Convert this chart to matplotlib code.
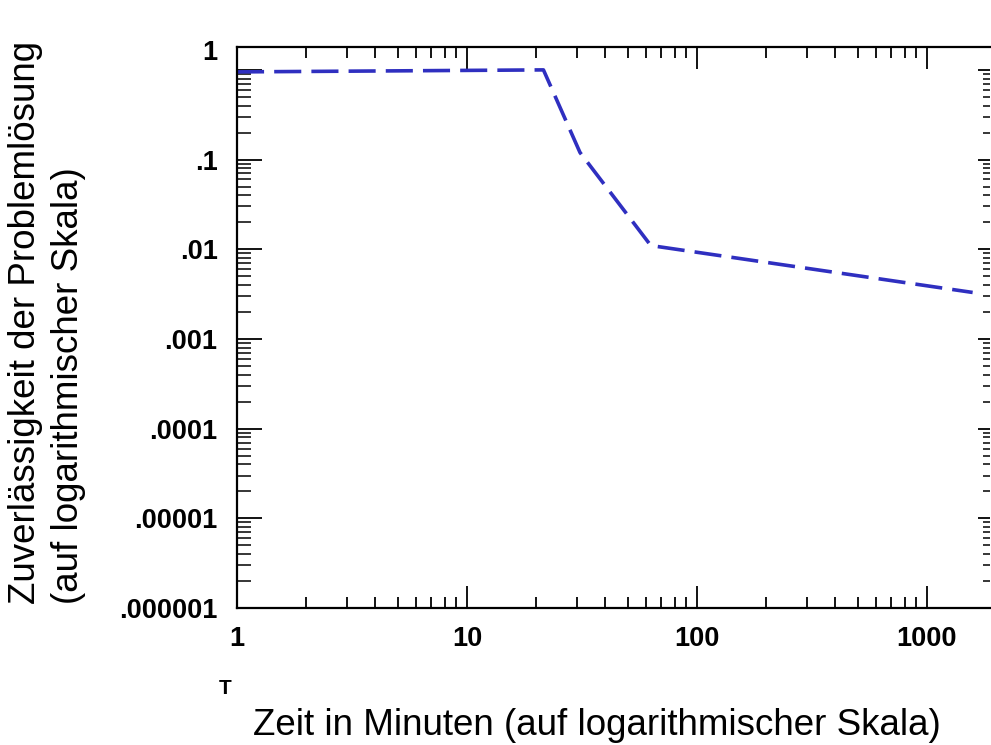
import matplotlib
matplotlib.use("Agg")
import matplotlib.pyplot as plt
import matplotlib.transforms as mtransforms
from matplotlib.ticker import LogLocator, FixedLocator, NullFormatter

# Data
time_min = [1, 21.5, 31, 63, 1580]
reliability = [0.95, 1.0, 0.12, 0.011, 0.0033]

x_ticks = [1, 10, 100, 1000]
x_tick_labels = ["1", "10", "100", "1000"]
y_ticks = [1e-6, 1e-5, 1e-4, 1e-3, 1e-2, 1e-1, 1]
y_tick_labels = [".000001", ".00001", ".0001", ".001", ".01", ".1", "1"]

plt.rcParams['font.family'] = ['Liberation Sans', 'DejaVu Sans']

fig = plt.figure(figsize=(9.91, 7.45), dpi=100)
fig.patch.set_facecolor("white")
W, H = 991, 745
left, right, top, bottom = 237, 990, 47, 608
ax = fig.add_axes([left / W, 1 - bottom / H, (right - left) / W, (bottom - top) / H])
ax.set_facecolor("white")

ax.plot(time_min, reliability, color="#2f2fc0", lw=2.6, dashes=(7.5, 2.8),
        solid_capstyle="butt", dash_capstyle="butt")

ax.set_xscale("log")
ax.set_yscale("log")
ax.set_xlim(1, 1880)
ax.set_ylim(1e-6, 1.8)

ax.xaxis.set_major_locator(FixedLocator(x_ticks))
ax.set_xticklabels(x_tick_labels, fontsize=19.5, fontweight="bold")
ax.yaxis.set_major_locator(FixedLocator(y_ticks))
ax.set_yticklabels(y_tick_labels, fontsize=19.5, fontweight="bold")
ax.xaxis.set_minor_locator(LogLocator(base=10, subs=range(2, 10), numticks=20))
ax.yaxis.set_minor_locator(LogLocator(base=10, subs=range(2, 10), numticks=20))
ax.xaxis.set_minor_formatter(NullFormatter())
ax.yaxis.set_minor_formatter(NullFormatter())

for s in ["left", "bottom", "top"]:
    ax.spines[s].set_linewidth(1.6)
ax.spines["right"].set_visible(False)

ax.tick_params(axis="x", which="major", direction="in", length=16, width=1.3,
               top=True, bottom=True, pad=13)
ax.tick_params(axis="x", which="minor", direction="in", length=8, width=1.3,
               top=True, bottom=True)
ax.tick_params(axis="y", which="major", direction="in", length=18, width=1.3,
               left=True, right=False, pad=14)
ax.tick_params(axis="y", which="minor", direction="in", length=10, width=1.1,
               left=True, right=False)

# the "1" label sits at the top edge in the original
lab = ax.get_yticklabels()[-1]
lab.set_transform(lab.get_transform() +
                  mtransforms.ScaledTranslation(0, 20 / 100, fig.dpi_scale_trans))

# right-side short ticks
axr = ax.twinx()
axr.set_yscale("log")
axr.set_ylim(ax.get_ylim())
axr.yaxis.set_major_locator(FixedLocator(y_ticks))
axr.yaxis.set_minor_locator(LogLocator(base=10, subs=range(2, 10), numticks=20))
axr.yaxis.set_major_formatter(NullFormatter())
axr.yaxis.set_minor_formatter(NullFormatter())
axr.tick_params(axis="y", which="major", direction="in", length=9, width=1.3)
axr.tick_params(axis="y", which="minor", direction="in", length=5, width=1.1)
for s in axr.spines.values():
    s.set_visible(False)

fig.text(225 / W, 1 - 688 / H, "T", fontsize=15, fontweight="bold",
         ha="center", va="center")
fig.text(597 / W, 1 - 735 / H, "Zeit in Minuten (auf logarithmischer Skala)",
         fontsize=26.5, ha="center", va="baseline")
fig.text(26 / W, 1 - 604 / H, "Zuverlässigkeit der Problemlösung",
         fontsize=26.5, ha="center", va="bottom", rotation=90)
fig.text(69 / W, 1 - 604 / H, "(auf logarithmischer Skala)",
         fontsize=26.5, ha="center", va="bottom", rotation=90)

fig.savefig("out.png", dpi=100, facecolor="white")
